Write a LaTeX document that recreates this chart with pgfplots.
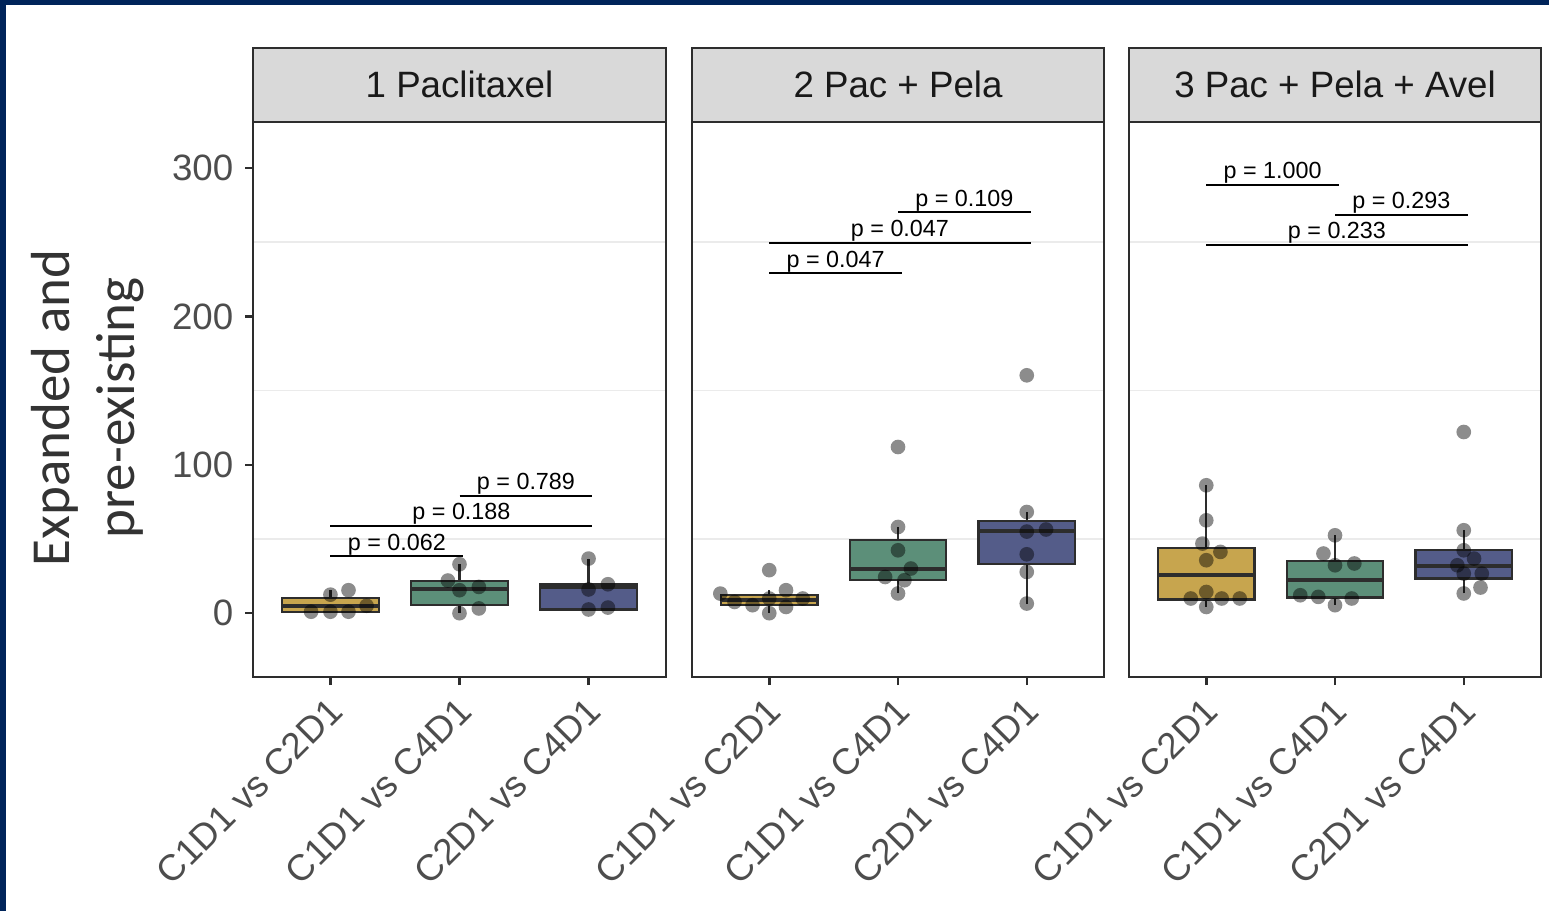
\documentclass[border=0pt]{standalone}
\usepackage{pgfplots}
\pgfplotsset{compat=1.18}
\usepgfplotslibrary{statistics}
\usepackage{fontspec}
\setmainfont{Liberation Sans}
\newfontfamily\carlito{Carlito}
\definecolor{navy}{RGB}{0,36,90}
\definecolor{cgold}{RGB}{199,165,78}
\definecolor{cgreen}{RGB}{92,143,121}
\definecolor{cblue}{RGB}{84,92,137}
\definecolor{frame}{RGB}{45,45,45}
\definecolor{ticklab}{RGB}{77,77,77}
\definecolor{stripc}{RGB}{217,217,217}
\definecolor{gridc}{RGB}{235,235,235}

\pgfplotsset{
  panel/.style={
    scale only axis, width=123.6pt, height=166.5pt,
    xmin=0.4, xmax=3.6, ymin=-43, ymax=331,
    xtick={1,2,3}, xticklabels={C1D1 vs C2D1, C1D1 vs C4D1, C2D1 vs C4D1},
    ytick={0,100,200,300},
    axis line style={draw=frame, line width=0.75pt},
    tick style={draw=frame, line width=0.75pt},
    tick align=outside, major tick length=2.4pt,
    xtick pos=left, ytick pos=left,
    minor ytick={50,150,250}, yminorgrids=true, minor tick length=0pt,
    minor grid style={draw=gridc, line width=0.5pt},
    clip=false,
    /pgf/number format/assume math mode=true,
    yticklabel style={font=\fontsize{11}{13}\selectfont, text=ticklab},
    xticklabel style={xshift=-1.2pt, yshift=1.8pt, rotate=45, anchor=north east, font=\fontsize{11}{13}\selectfont, text=ticklab},
    boxplot/draw direction=y,
    boxplot/every median/.style={line width=1.2pt},
  },
  bx/.style={draw=frame, line width=0.65pt},
  pts/.style={only marks, mark=*, mark size=2.2pt, mark options={draw opacity=0, fill=black, fill opacity=0.45}},
  br/.style={black, line width=0.7pt},
}
\tikzset{
  plab/.style={font=\fontsize{7}{8}\selectfont, anchor=base, yshift=1.8pt, inner sep=0pt},
  striptext/.style={font=\fontsize{11}{13}\selectfont, text=black!90},
}

\begin{document}
\begin{tikzpicture}
\fill[navy] (0,0) rectangle (464.7pt,273.3pt);
\fill[white] (1.8pt,0) rectangle (464.7pt,271.8pt);
\useasboundingbox (0,0) rectangle (464.7pt,273.3pt);

\node[rotate=90, align=center, font=\carlito\fontsize{16.5}{19.5}\selectfont, text=black!80] at (26.4pt,150.9pt) {Expanded and\\pre-existing};

% Panel 1
\begin{axis}[panel, width=123.9pt, at={(75.9pt,70.2pt)}, anchor=south west]
\addplot[bx, fill=cgold, boxplot prepared={lower whisker=0, lower quartile=1, median=5, upper quartile=10, upper whisker=15.5, draw position=1, box extend=0.75, whisker extend=0}] coordinates {};
\addplot[bx, fill=cgreen, boxplot prepared={lower whisker=0, lower quartile=5.4, median=16.6, upper quartile=21.5, upper whisker=33, draw position=2, box extend=0.75, whisker extend=0}] coordinates {};
\addplot[bx, fill=cblue, boxplot prepared={lower whisker=2.5, lower quartile=2.5, median=17.7, upper quartile=19.5, upper whisker=36.8, draw position=3, box extend=0.75, whisker extend=0}] coordinates {};
\addplot[pts] table {
x y
0.85 1
1.0 1
1.14 1
1.28 5
1.0 12.5
1.14 15.5
2.0 33
1.91 22
2.0 15.5
2.15 17.7
2.0 0
2.15 3.2
3.0 36.8
3.0 16
3.15 19.5
3.0 2.5
3.15 3.8
};
\addplot[br] coordinates {(1,38.4) (2.03,38.4)};
\addplot[br] coordinates {(1,58.8) (3.03,58.8)};
\addplot[br] coordinates {(2,79) (3.03,79)};
\node[plab] at (axis cs:1.515,38.4) {p = 0.062};
\node[plab] at (axis cs:2.015,58.8) {p = 0.188};
\node[plab] at (axis cs:2.515,79) {p = 0.789};
\draw[fill=stripc, draw=frame, line width=0.75pt] (rel axis cs:0,1) rectangle ([yshift=22.2pt]rel axis cs:1,1);
\node[striptext] at ([yshift=11.4pt]rel axis cs:0.5,1) {1 Paclitaxel};
\end{axis}

% Panel 2
\begin{axis}[panel, at={(207.6pt,70.2pt)}, anchor=south west, yticklabels={}, ytick style={draw=none}]
\addplot[bx, fill=cgold, boxplot prepared={lower whisker=0, lower quartile=5.4, median=9.2, upper quartile=12.1, upper whisker=15.5, draw position=1, box extend=0.75, whisker extend=0}] coordinates {};
\addplot[bx, fill=cgreen, boxplot prepared={lower whisker=13.3, lower quartile=22.2, median=30.1, upper quartile=49.6, upper whisker=58.1, draw position=2, box extend=0.75, whisker extend=0}] coordinates {};
\addplot[bx, fill=cblue, boxplot prepared={lower whisker=6.5, lower quartile=33, median=55.4, upper quartile=62.2, upper whisker=68.2, draw position=3, box extend=0.75, whisker extend=0}] coordinates {};
\addplot[pts] table {
x y
0.62 13.2
0.73 7.6
0.87 5.4
1.0 9.9
1.0 0
1.0 29
1.13 15.5
1.13 4.2
1.26 9.9
2.0 112
2.0 58.1
2.0 42.4
2.1 30.1
1.9 24.4
2.05 22.2
2.0 13.3
3.0 160.3
3.0 68.2
3.0 55
3.15 56.4
3.0 39.7
3.0 27.8
3.0 6.5
};
\addplot[br] coordinates {(1,229.2) (2.03,229.2)};
\addplot[br] coordinates {(1,249.6) (3.03,249.6)};
\addplot[br] coordinates {(2,270.2) (3.03,270.2)};
\node[plab] at (axis cs:1.515,229.2) {p = 0.047};
\node[plab] at (axis cs:2.015,249.6) {p = 0.047};
\node[plab] at (axis cs:2.515,270.2) {p = 0.109};
\draw[fill=stripc, draw=frame, line width=0.75pt] (rel axis cs:0,1) rectangle ([yshift=22.2pt]rel axis cs:1,1);
\node[striptext] at ([yshift=11.4pt]rel axis cs:0.5,1) {2 Pac + Pela};
\end{axis}

% Panel 3
\begin{axis}[panel, at={(338.7pt,70.2pt)}, anchor=south west, yticklabels={}, ytick style={draw=none}]
\addplot[bx, fill=cgold, boxplot prepared={lower whisker=4.2, lower quartile=9.2, median=25.6, upper quartile=44.2, upper whisker=86.2, draw position=1, box extend=0.75, whisker extend=0}] coordinates {};
\addplot[bx, fill=cgreen, boxplot prepared={lower whisker=5.4, lower quartile=10.6, median=22.2, upper quartile=35.2, upper whisker=52.5, draw position=2, box extend=0.75, whisker extend=0}] coordinates {};
\addplot[bx, fill=cblue, boxplot prepared={lower whisker=13.3, lower quartile=23.4, median=31.6, upper quartile=42.4, upper whisker=55.9, draw position=3, box extend=0.75, whisker extend=0}] coordinates {};
\addplot[pts] table {
x y
1.0 86.2
1.0 62.6
0.97 46.9
1.11 41.3
1.0 35.7
1.0 14.3
0.88 9.9
1.12 9.9
1.26 9.9
1.0 4.2
2.0 52.5
1.91 40.2
2.0 32.3
2.15 33.5
1.73 12.1
1.87 11
2.13 9.9
2.0 5.4
3.0 122.1
3.0 55.9
3.0 42.4
3.08 36.8
2.95 32.3
3.0 26.7
3.14 26.7
3.13 17.3
3.0 13.3
};
\addplot[br] coordinates {(1,288.7) (2.03,288.7)};
\addplot[br] coordinates {(2,268.5) (3.03,268.5)};
\addplot[br] coordinates {(1,248.3) (3.03,248.3)};
\node[plab] at (axis cs:1.515,288.7) {p = 1.000};
\node[plab] at (axis cs:2.515,268.5) {p = 0.293};
\node[plab] at (axis cs:2.015,248.3) {p = 0.233};
\draw[fill=stripc, draw=frame, line width=0.75pt] (rel axis cs:0,1) rectangle ([yshift=22.2pt]rel axis cs:1,1);
\node[striptext] at ([yshift=11.4pt]rel axis cs:0.5,1) {3 Pac + Pela + Avel};
\end{axis}
\end{tikzpicture}
\end{document}
